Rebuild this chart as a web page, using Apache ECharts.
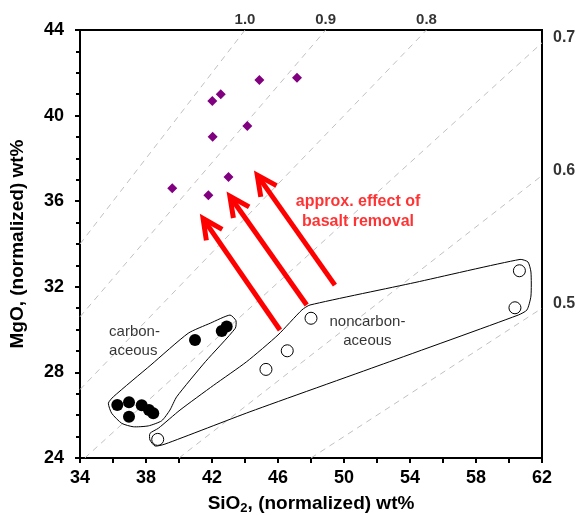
<!DOCTYPE html>
<html><head><meta charset="utf-8">
<script src="https://cdn.jsdelivr.net/npm/echarts@6/dist/echarts.min.js"></script>
<style>html,body{margin:0;padding:0;background:#fff}#c{width:579px;height:515px}</style>
</head><body><div id="c"></div>
<script>
// ---- data ----
const xTicks = [34, 38, 42, 46, 50, 54, 58, 62];
const yTicks = [24, 28, 32, 36, 40, 44];
// purple diamonds [SiO2, MgO]
const diamondSamples = [[39.59,36.60],[41.78,36.28],[43.00,37.13],[42.04,39.01],[44.14,39.51],[42.02,40.68],[42.53,41.00],[44.87,41.66],[47.15,41.77]];
// carbonaceous (filled circles)
const carbonaceous = [[36.26,26.48],[36.97,26.60],[36.97,25.93],[37.74,26.46],[38.18,26.24],[38.44,26.09],[40.97,29.51],[42.59,29.93],[42.89,30.14]];
// noncarbonaceous (open circles)
const noncarbonaceous = [[38.71,24.87],[45.27,28.14],[46.56,29.01],[48.00,30.53],[60.63,32.75],[60.36,31.02]];
// MgO/SiO2 ratio reference lines: label, start, end
const ratioLabels = ['1.0','0.9','0.8','0.7','0.6','0.5'];
const ratioStarts = [[34,34],[34,30.6],[34,27.2],[34.29,24],[40,24],[48,24]];
const ratioEnds = [[44,44],[48.89,44],[55,44],[62,43.4],[62,37.2],[62,31]];
// field envelopes
const carbEnvelope = [[35.72,26.56],[36.02,26.86],[38.3,28.35],[40.56,29.83],[41.9,30.3],[43.09,30.68],[43.45,30.42],[43.41,30.06],[41.6,28.5],[39.86,26.86],[39.45,26.24],[38.95,25.74],[38.14,25.50],[37.23,25.46],[36.53,25.62],[35.92,26.09]];
const noncarbEnvelope = [[38.24,25.15],[38.24,24.84],[38.55,24.56],[39.15,24.65],[44.30,26.16],[52.4,28.4],[60.56,30.68],[61.09,30.92],[61.33,31.57],[61.33,32.69],[61.15,33.16],[60.67,33.28],[54.3,32.2],[47.94,31.15],[47.45,30.92],[46.0,29.75],[44.10,28.50],[42.1,27.4],[40.06,26.24],[38.75,25.39]];
// arrows: tail x, tail y, tip x, tip y
const arrows = [[46.12,29.98,41.27,35.40],[47.74,31.15,42.89,36.44],[49.45,32.08,44.55,37.43]];
// text annotations
const annotations = [
  {text:'approx. effect of\nbasalt removal', pos:[50.85,35.50], color:'#ff0000', bold:true, align:'center', size:16, lh:20},
  {text:'carbon-\naceous', pos:[35.76,29.47], color:'#000', bold:false, align:'left', size:15, lh:19},
  {text:'noncarbon-\naceous', pos:[51.42,29.93], color:'#000', bold:false, align:'center', size:15, lh:19}
];

const FONT = 'Liberation Sans, Arial, sans-serif';
const chart = echarts.init(document.getElementById('c'), null, {renderer:'canvas'});

const series = [];
ratioLabels.forEach((lab, i) => {
  series.push({type:'line', data:[ratioStarts[i], ratioEnds[i]], symbol:'none', silent:true, z:1,
    lineStyle:{color:'#c0c0c0', width:1, type:[6,5]}, animation:false});
});
// ratio labels
series.push({type:'scatter', symbolSize:0, silent:true, z:5, animation:false,
  data: ratioLabels.map((lab, i) => {
    const e = ratioEnds[i];
    const top = e[1] >= 44;
    return {value:e, label:{show:true, formatter:lab, fontFamily:FONT, fontWeight:'bold', fontSize: top?15:16, color:'#000',
      position: top ? 'top' : 'right', distance: top ? 3 : 11, offset: top ? [0,0] : [0,-5]}};
  })
});
// envelopes
[carbEnvelope, noncarbEnvelope].forEach(env => {
  series.push({type:'custom', coordinateSystem:'cartesian2d', data:[env[0]], silent:true, z:2, animation:false,
    renderItem:(params, api) => ({type:'polygon', shape:{points: env.map(p => api.coord(p)), smooth:0.2},
      style:{fill:null, stroke:'#000', lineWidth:1}})});
});
// arrows
series.push({type:'custom', coordinateSystem:'cartesian2d', data:arrows, encode:{x:[0,2], y:[1,3]}, silent:true, z:3, animation:false,
  renderItem:(params, api) => {
    const tail = api.coord([api.value(0), api.value(1)]);
    const tipV = api.coord([api.value(2), api.value(3)]);
    const ang = Math.atan2(tail[1]-tipV[1], tail[0]-tipV[0]);
    const back = 5.5;
    const tip = [tipV[0] + back*Math.cos(ang), tipV[1] + back*Math.sin(ang)];
    const L = 22, a = 26*Math.PI/180;
    const w1 = [tip[0]+L*Math.cos(ang+a), tip[1]+L*Math.sin(ang+a)];
    const w2 = [tip[0]+L*Math.cos(ang-a), tip[1]+L*Math.sin(ang-a)];
    return {type:'group', children:[
      {type:'line', shape:{x1:tail[0], y1:tail[1], x2:tip[0], y2:tip[1]}, style:{stroke:'#ff0000', lineWidth:5}},
      {type:'polyline', shape:{points:[w1, tip, w2]}, style:{stroke:'#ff0000', lineWidth:5, fill:null, lineJoin:'miter', miterLimit:10}}
    ]};
  }
});
// markers
series.push({type:'scatter', data:diamondSamples, symbol:'diamond', symbolSize:10, z:4, animation:false,
  itemStyle:{color:'#800080', opacity:1}});
series.push({type:'scatter', data:carbonaceous, symbol:'circle', symbolSize:12, z:4, animation:false,
  itemStyle:{color:'#000', opacity:1}});
series.push({type:'scatter', data:noncarbonaceous, symbol:'circle', symbolSize:12, z:4, animation:false,
  itemStyle:{color:'#fff', borderColor:'#000', borderWidth:1, opacity:1}});
// text annotations
series.push({type:'scatter', symbolSize:0, silent:true, z:5, animation:false,
  data: annotations.map(a => ({value:a.pos, label:{show:true, formatter:a.text, position:'inside', align:a.align,
    verticalAlign:'middle', color:a.color, fontFamily:FONT, fontWeight:a.bold?'bold':'normal', fontSize:a.size,
    lineHeight:a.lh}}))
});

const axisCommon = {
  axisLine:{show:true, onZero:false, lineStyle:{color:'#000', width:2}},
  axisTick:{show:true, inside:false, length:5, lineStyle:{color:'#000', width:2}},
  splitLine:{show:false},
  axisLabel:{color:'#000', fontFamily:FONT, fontWeight:'bold', fontSize:18}
};

chart.setOption({
  animation:false,
  grid:{left:80, right:37, top:30, bottom:57, show:true, borderColor:'#000', borderWidth:2, containLabel:false, outerBoundsMode:'none'},
  xAxis:Object.assign({}, axisCommon, {type:'value', min:xTicks[0], max:xTicks[xTicks.length-1], interval:4,
    minorTick:{show:true, splitNumber:2, length:5, lineStyle:{color:'#000', width:2}},
    axisLabel:Object.assign({}, axisCommon.axisLabel, {margin:11}),
    name:'{a|SiO}{s|2}{a|, (normalized) wt%}', nameLocation:'middle', nameGap:34,
    nameTextStyle:{rich:{a:{fontFamily:FONT, fontWeight:'bold', fontSize:19, lineHeight:22, color:'#000'},
      s:{fontFamily:FONT, fontWeight:'bold', fontSize:13, lineHeight:13, padding:[10,0,0,0], color:'#000'}}}}),
  yAxis:Object.assign({}, axisCommon, {type:'value', min:yTicks[0], max:yTicks[yTicks.length-1], interval:4,
    minorTick:{show:true, splitNumber:4, length:4, lineStyle:{color:'#000', width:2}},
    axisLabel:Object.assign({}, axisCommon.axisLabel, {margin:16}),
    name:'MgO, (normalized) wt%', nameLocation:'middle', nameGap:53,
    nameTextStyle:{fontFamily:FONT, fontWeight:'bold', fontSize:19, color:'#000'}}),
  series:series
});
</script></body></html>
